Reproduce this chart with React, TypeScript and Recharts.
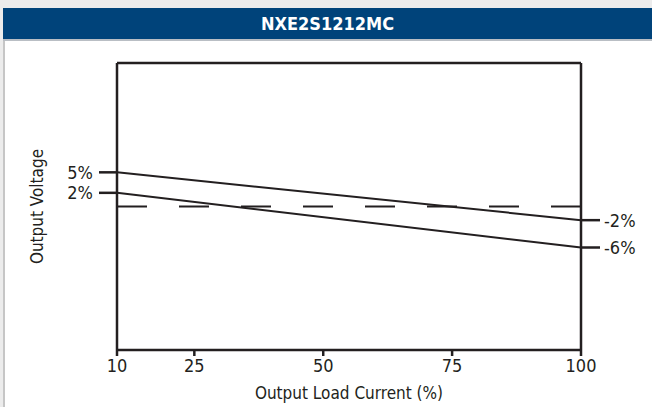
import { LineChart, Line, XAxis, YAxis, ReferenceLine } from "recharts";

const loadPct = [10, 100];
const upperLine = [5, -2];
const lowerLine = [2, -6];
const nominalLine = [0, 0];

const xTicks = [10, 25, 50, 75, 100];
const leftTicks = [5, 2];
const rightTicks = [-2, -6];

const data = loadPct.map((x, i) => ({
  load: x,
  upper: upperLine[i],
  lower: lowerLine[i],
  nominal: nominalLine[i],
}));

const ink = "#231f20";
const font = "'Liberation Sans Narrow', 'DejaVu Sans Condensed', Arial, sans-serif";

export default function App() {
  return (
    <div
      style={{
        position: "absolute",
        left: 0,
        top: 0,
        width: 652,
        height: 407,
        background: "#ececec",
        fontFamily: font,
        overflow: "hidden",
      }}
    >
      <div
        style={{
          position: "absolute",
          left: 3,
          top: 8,
          right: 0,
          bottom: 0,
          background: "#fff",
          borderLeft: "2px solid #c6c6c6",
        }}
      />
      <div
        style={{
          position: "absolute",
          left: 3,
          top: 8,
          right: 0,
          height: 31,
          background: "#00437a",
          borderBottom: "2px solid #b9bec4",
          color: "#fff",
          fontWeight: "bold",
          fontSize: 18,
          lineHeight: "31px",
          textAlign: "center",
        }}
      >
        NXE2S1212MC
      </div>
      <div style={{ position: "absolute", left: 0, top: 0 }}>
        <LineChart
          width={652}
          height={407}
          data={data}
          margin={{ top: 63, right: 0, bottom: 0, left: 0 }}
        >
          <XAxis
            dataKey="load"
            type="number"
            domain={[10, 100]}
            ticks={xTicks}
            interval={0}
            height={57}
            tickSize={6}
            tickMargin={3}
            stroke={ink}
            strokeWidth={2.5}
            tick={{ fill: ink, fontSize: 18, fontFamily: font }}
            label={{
              value: "Output Load Current (%)",
              position: "insideBottom",
              offset: 8,
              fill: ink,
              fontSize: 17,
              fontFamily: font,
            }}
          />
          <YAxis
            yAxisId="l"
            type="number"
            domain={[-21, 21]}
            allowDataOverflow
            ticks={leftTicks}
            interval={0}
            width={117}
            tickSize={18}
            tickMargin={6}
            stroke={ink}
            strokeWidth={2.5}
            tickFormatter={(v) => `${v}%`}
            tick={{ fill: ink, fontSize: 18, fontFamily: font }}
            label={{
              content: (p: any) => {
                const vb = p.viewBox || {};
                const cx = 37;
                const cy = (vb.y ?? 63) + (vb.height ?? 287) / 2;
                return (
                  <text
                    x={cx}
                    y={cy}
                    transform={`rotate(-90 ${cx} ${cy})`}
                    textAnchor="middle"
                    dominantBaseline="central"
                    fill={ink}
                    fontSize={17}
                    fontFamily={font}
                  >
                    Output Voltage
                  </text>
                );
              },
            }}
          />
          <YAxis
            yAxisId="r"
            orientation="right"
            type="number"
            domain={[-21, 21]}
            allowDataOverflow
            ticks={rightTicks}
            interval={0}
            width={71}
            tickSize={19}
            tickMargin={4}
            stroke={ink}
            strokeWidth={2.5}
            tickFormatter={(v) => `${v}%`}
            tick={{ fill: ink, fontSize: 18, fontFamily: font, textAnchor: "start" }}
          />
          <ReferenceLine yAxisId="l" y={21} stroke={ink} strokeWidth={2.5} />
          <Line
            yAxisId="l"
            dataKey="nominal"
            type="linear"
            stroke={ink}
            strokeWidth={2}
            strokeDasharray="30 32"
            dot={false}
            isAnimationActive={false}
          />
          <Line
            yAxisId="l"
            dataKey="upper"
            type="linear"
            stroke={ink}
            strokeWidth={2}
            dot={false}
            isAnimationActive={false}
          />
          <Line
            yAxisId="l"
            dataKey="lower"
            type="linear"
            stroke={ink}
            strokeWidth={2}
            dot={false}
            isAnimationActive={false}
          />
        </LineChart>
      </div>
    </div>
  );
}
